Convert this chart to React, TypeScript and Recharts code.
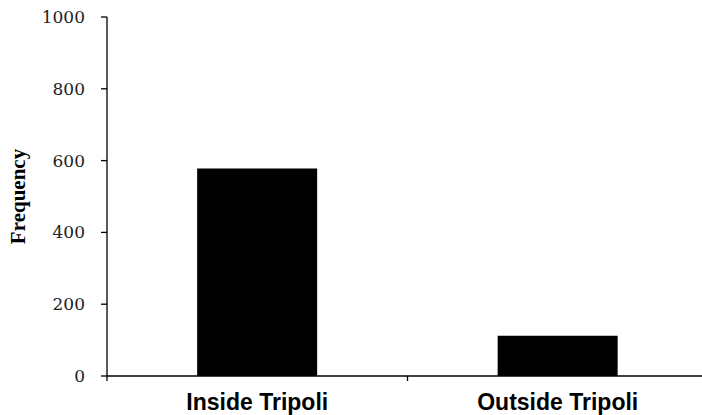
import React from "react";
import { BarChart, Bar, XAxis, YAxis } from "recharts";

const categories = ["Inside Tripoli", "Outside Tripoli"];
const frequencies = [578, 112];
const yTicks = [0, 200, 400, 600, 800, 1000];

const CHART_W = 712;
const CHART_H = 415;
const YAXIS_W = 107;
const MARGIN = { top: 17, right: 4, bottom: 0, left: 0 };
const BAND = (CHART_W - YAXIS_W - MARGIN.left - MARGIN.right) / categories.length;

const data = categories.map((name, i) => ({ name, value: frequencies[i] }));

// category label plus tick marks at the band edges (like Excel)
function CategoryTick(props: any) {
  const { x, y, payload, index } = props;
  const axisY = y - 18;
  const last = index === categories.length - 1;
  return (
    <g>
      {index === 0 && (
        <line x1={x - BAND / 2} x2={x - BAND / 2} y1={axisY} y2={axisY + 5} stroke="#000" strokeWidth={1.3} />
      )}
      {!last && (
        <line x1={x + BAND / 2} x2={x + BAND / 2} y1={axisY} y2={axisY + 5} stroke="#000" strokeWidth={1.3} />
      )}
      <text
        x={x}
        y={axisY + 34}
        textAnchor="middle"
        fontFamily="'Liberation Sans', Arial, sans-serif"
        fontWeight="bold"
        fontSize={23}
        fill="#000"
      >
        {payload.value}
      </text>
    </g>
  );
}

export default function App() {
  return (
    <div style={{ position: "absolute", left: 0, top: 0, width: 702, height: 415, overflow: "hidden", background: "#fff" }}>
      <BarChart width={CHART_W} height={CHART_H} data={data} margin={MARGIN} barCategoryGap="30%">
        <XAxis
          dataKey="name"
          height={39}
          tickLine={false}
          tickSize={0}
          tickMargin={18}
          axisLine={{ stroke: "#000", strokeWidth: 1.3 }}
          tick={<CategoryTick />}
          interval={0}
        />
        <YAxis
          width={YAXIS_W}
          domain={[0, 1000]}
          ticks={yTicks}
          interval={0}
          tickSize={6}
          tickMargin={16}
          axisLine={{ stroke: "#000", strokeWidth: 1.3 }}
          tickLine={{ stroke: "#000", strokeWidth: 1.3 }}
          tick={{ fontFamily: "'DejaVu Serif', serif", fontSize: 17, fill: "#222" }}
          label={{
            value: "Frequency",
            angle: -90,
            position: "insideLeft",
            offset: 18,
            style: {
              textAnchor: "middle",
              fontFamily: "'Liberation Serif', serif",
              fontWeight: "bold",
              fontSize: 21,
              fill: "#000",
            },
          }}
        />
        <Bar dataKey="value" fill="#000" isAnimationActive={false} />
      </BarChart>
    </div>
  );
}
